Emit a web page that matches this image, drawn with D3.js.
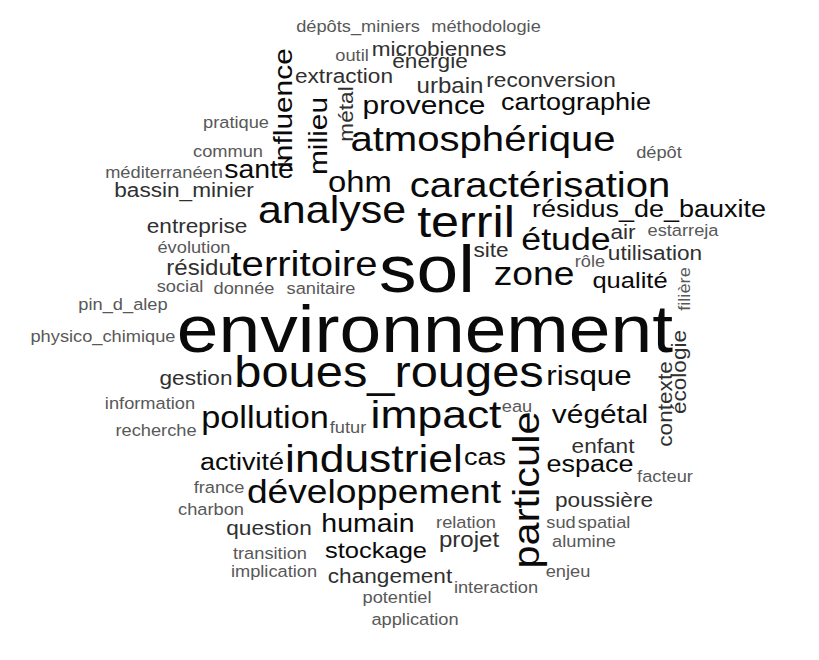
<!DOCTYPE html>
<html>
<head>
<meta charset="utf-8">
<script src="https://cdn.jsdelivr.net/npm/d3@7"></script>
<style>
body { margin: 0; background: #fff; }
text { font-family: 'Liberation Sans', Arial, sans-serif; }
</style>
</head>
<body>
<div id="cloud"></div>
<script>
var words = [
  'dépôts_miniers', 'méthodologie', 'outil', 'microbiennes', 'énergie', 'extraction', 'urbain',
  'reconversion', 'provence', 'cartographie', 'pratique', 'commun', 'atmosphérique', 'dépôt',
  'méditerranéen', 'santé', 'bassin_minier', 'ohm', 'caractérisation', 'analyse', 'terril',
  'résidus_de_bauxite', 'entreprise', 'évolution', 'résidu', 'territoire', 'sol', 'étude', 'air',
  'estarreja', 'site', 'utilisation', 'social', 'donnée', 'sanitaire', 'zone', 'rôle', 'qualité',
  'pin_d_alep', 'physico_chimique', 'environnement', 'gestion', 'boues_rouges', 'risque',
  'information', 'recherche', 'pollution', 'futur', 'impact', 'eau', 'végétal', 'activité',
  'industriel', 'cas', 'enfant', 'espace', 'facteur', 'france', 'développement', 'charbon',
  'poussière', 'question', 'humain', 'relation', 'sud', 'spatial', 'transition', 'stockage',
  'projet', 'alumine', 'implication', 'changement', 'interaction', 'enjeu', 'potentiel',
  'application', 'influence', 'milieu', 'métal', 'particule', 'contexte', 'écologie', 'filière'
]

var counts = [
  1, 1, 1, 4, 4, 4, 5,
  4, 9, 7, 1, 1, 16, 1,
  1, 8, 4, 11, 16, 18, 23,
  7, 4, 1, 5, 16, 40, 13, 4,
  1, 4, 4, 1, 1, 1, 14, 1, 6,
  1, 1, 40, 4, 22, 10,
  1, 1, 12, 1, 19, 1, 9, 7,
  19, 7, 4, 7, 1, 1, 14, 1,
  4, 4, 8, 1, 1, 1, 1, 6,
  5, 1, 1, 4, 1, 1, 1,
  1, 9, 9, 4, 17, 4, 4, 1
]

// 0 = horizontal, -90 = reads bottom to top
var angles = words.map((w, i) => i >= 76 ? -90 : 0)

// word positions as the cloud layout placed them, relative to the cloud centre
var layoutX = [
  -52, 76, -58, 29, 20, -66, 40,
  141, 14, 166, -174, -182, 73, 249,
  -246, -151, -226, -50, 130, -78, 56,
  239, -213, -216, -211, -106, 17, 156, 213,
  273, 81, 245, -230, -166, -89, 124, 180, 220,
  -287, -307, 15, -214, -21, 179,
  -260, -254, -145, -62, 26, 107, 190, -168,
  -36, 75, 193, 180, 255, -191, -36, -199,
  194, -141, -42, 56, 151, 194, -140, -34,
  59, 174, -136, -20, 86, 158, -13,
  5, -118, -83, -57, 129, 262, 276, 280
]
var layoutY = [
  -298, -298, -269, -274, -262, -247, -237,
  -243, -216, -220, -202, -173, -179, -172,
  -152, -152, -133, -138, -133, -107, -93,
  -113, -97, -77, -55, -54, -38, -80, -91,
  -94, -73, -70, -38, -36, -36, -45, -63, -42,
  -20, 12, 22, 55, 57, 55,
  79, 106, 98, 103, 98, 82, 93, 140,
  142, 135, 123, 142, 152, 163, 173, 185,
  177, 205, 202, 198, 198, 198, 229, 228,
  217, 217, 247, 253, 263, 247, 273,
  295, -222, -194, -216, 160, 74, 42, -41
]

var width = 819, height = 660

var svg = d3.select('#cloud').append('svg')
  .attr('width', width)
  .attr('height', height)

var x = d3.scaleLinear().domain([-410, 409]).range([0, width])
var y = d3.scaleLinear().domain([-330, 330]).range([0, height])
var size = d3.scaleLinear().domain([1, 40]).range([16.3, 67])
var color = d3.scaleThreshold().domain([2, 6]).range(['#585858', '#303030', '#0a0a0a'])
var stretch = 1.12

var data = words.map((w, i) => ({
  text: w,
  count: counts[i],
  angle: angles[i],
  x: layoutX[i],
  y: layoutY[i]
}))

svg.append('rect')
  .attr('width', width)
  .attr('height', height)
  .attr('fill', '#fff')

svg.append('g').selectAll('text')
  .data(data)
  .join('text')
  .attr('text-anchor', 'middle')
  .attr('transform', d => `translate(${x(d.x)},${y(d.y)}) rotate(${d.angle}) scale(${stretch},1)`)
  .attr('font-size', d => size(d.count))
  .attr('fill', d => color(d.count))
  .text(d => d.text)
</script>
</body>
</html>
